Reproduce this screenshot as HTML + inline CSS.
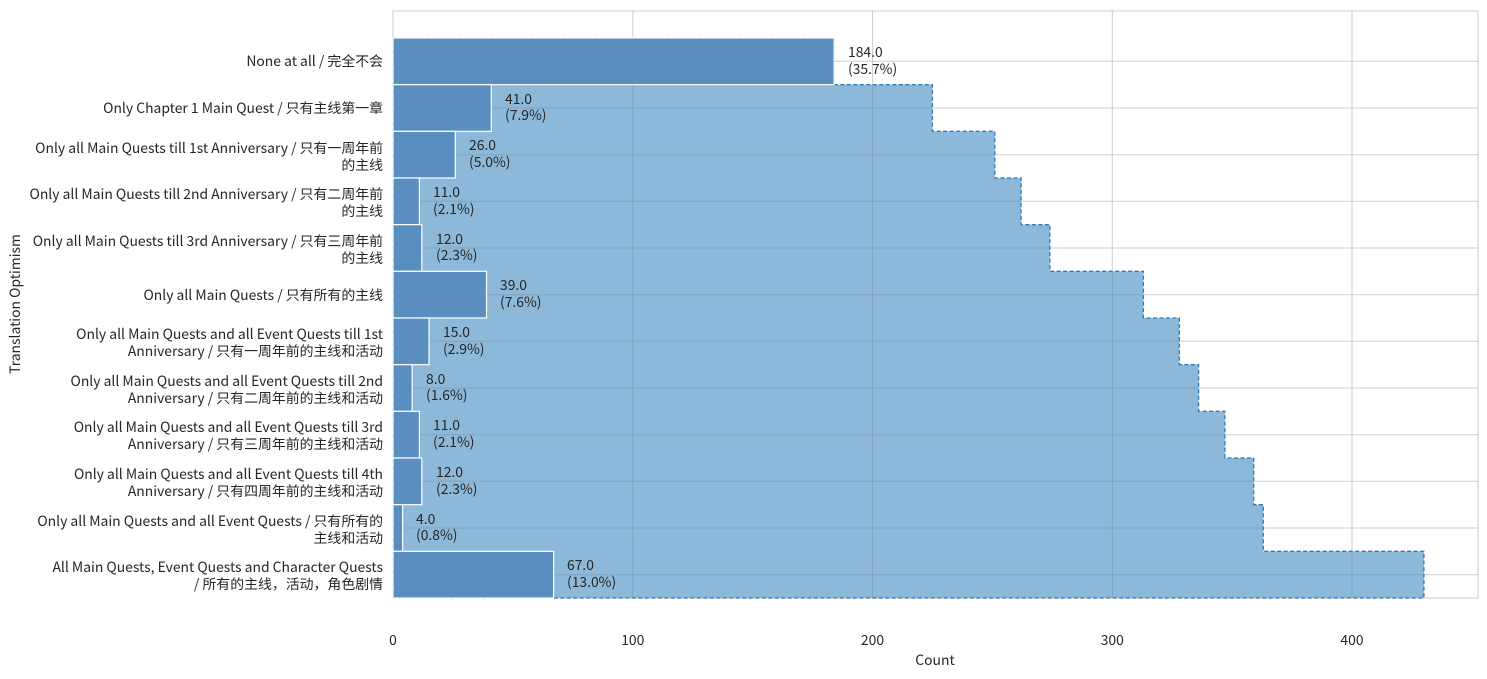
<!DOCTYPE html>
<html><head><meta charset="utf-8"><style>
body{margin:0;background:#fff;}
svg{display:block;font-family:"Noto Sans CJK SC","Liberation Sans",sans-serif;font-size:13.9px;fill:#262626;}
</style></head><body>
<svg width="1487" height="679" xmlns="http://www.w3.org/2000/svg">
<rect x="393" y="11" width="1085" height="587" fill="#fff" stroke="#ccc" stroke-width="1"/>
<path d="M393,38 H834.1 V84.67 H932.4 V131.33 H994.8 V178 H1021.1 V224.67 H1049.9 V271.33 H1143.4 V318 H1179.4 V364.67 H1198.6 V411.33 H1224.9 V458 H1253.7 V504.67 H1263.3 V551.33 H1423.9 V598 H393 Z" fill="#8cb8da" stroke="#2f78b8" stroke-width="1.3" stroke-dasharray="4,2.5"/>
<g stroke="#7a8a96" stroke-opacity="0.4" stroke-width="1">
<line x1="632.8" y1="11" x2="632.8" y2="598"/><line x1="872.5" y1="11" x2="872.5" y2="598"/><line x1="1112.3" y1="11" x2="1112.3" y2="598"/><line x1="1352" y1="11" x2="1352" y2="598"/>
<line x1="393" x2="1478" y1="61.3" y2="61.3"/><line x1="393" x2="1478" y1="108" y2="108"/><line x1="393" x2="1478" y1="154.7" y2="154.7"/><line x1="393" x2="1478" y1="201.3" y2="201.3"/><line x1="393" x2="1478" y1="248" y2="248"/><line x1="393" x2="1478" y1="294.7" y2="294.7"/><line x1="393" x2="1478" y1="341.3" y2="341.3"/><line x1="393" x2="1478" y1="388" y2="388"/><line x1="393" x2="1478" y1="434.7" y2="434.7"/><line x1="393" x2="1478" y1="481.3" y2="481.3"/><line x1="393" x2="1478" y1="528" y2="528"/><line x1="393" x2="1478" y1="574.7" y2="574.7"/>
</g>
<g fill="#5a8ebe" stroke="#fff" stroke-width="1.2">
<rect x="393" y="38" width="441.1" height="46.67"/>
<rect x="393" y="84.67" width="98.3" height="46.67"/>
<rect x="393" y="131.33" width="62.3" height="46.67"/>
<rect x="393" y="178" width="26.4" height="46.67"/>
<rect x="393" y="224.67" width="28.8" height="46.67"/>
<rect x="393" y="271.33" width="93.5" height="46.67"/>
<rect x="393" y="318" width="36" height="46.67"/>
<rect x="393" y="364.67" width="19.2" height="46.67"/>
<rect x="393" y="411.33" width="26.4" height="46.67"/>
<rect x="393" y="458" width="28.8" height="46.67"/>
<rect x="393" y="504.67" width="9.6" height="46.67"/>
<rect x="393" y="551.33" width="160.6" height="46.67"/>
</g>
<g>
<text x="848" y="57">184.0</text><text x="848" y="74">(35.7%)</text>
<text x="505" y="104">41.0</text><text x="505" y="120">(7.9%)</text>
<text x="469" y="150">26.0</text><text x="469" y="167">(5.0%)</text>
<text x="433" y="197">11.0</text><text x="433" y="214">(2.1%)</text>
<text x="436" y="244">12.0</text><text x="436" y="260">(2.3%)</text>
<text x="500" y="290">39.0</text><text x="500" y="307">(7.6%)</text>
<text x="443" y="337">15.0</text><text x="443" y="354">(2.9%)</text>
<text x="426" y="384">8.0</text><text x="426" y="400">(1.6%)</text>
<text x="433" y="430">11.0</text><text x="433" y="447">(2.1%)</text>
<text x="436" y="477">12.0</text><text x="436" y="494">(2.3%)</text>
<text x="416" y="524">4.0</text><text x="416" y="540">(0.8%)</text>
<text x="567" y="570">67.0</text><text x="567" y="587">(13.0%)</text>
</g>
<g text-anchor="end">
<text x="383" y="66">None at all / 完全不会</text>
<text x="383" y="113">Only Chapter 1 Main Quest / 只有主线第一章</text>
<text x="383" y="153">Only all Main Quests till 1st Anniversary / 只有一周年前</text><text x="383" y="170">的主线</text>
<text x="383" y="199">Only all Main Quests till 2nd Anniversary / 只有二周年前</text><text x="383" y="216">的主线</text>
<text x="383" y="246">Only all Main Quests till 3rd Anniversary / 只有三周年前</text><text x="383" y="263">的主线</text>
<text x="383" y="300">Only all Main Quests / 只有所有的主线</text>
<text x="383" y="339">Only all Main Quests and all Event Quests till 1st</text><text x="383" y="356">Anniversary / 只有一周年前的主线和活动</text>
<text x="383" y="386">Only all Main Quests and all Event Quests till 2nd</text><text x="383" y="403">Anniversary / 只有二周年前的主线和活动</text>
<text x="383" y="432">Only all Main Quests and all Event Quests till 3rd</text><text x="383" y="449">Anniversary / 只有三周年前的主线和活动</text>
<text x="383" y="479">Only all Main Quests and all Event Quests till 4th</text><text x="383" y="496">Anniversary / 只有四周年前的主线和活动</text>
<text x="383" y="526">Only all Main Quests and all Event Quests / 只有所有的</text><text x="383" y="543">主线和活动</text>
<text x="383" y="572">All Main Quests, Event Quests and Character Quests</text><text x="383" y="589">/ 所有的主线，活动，角色剧情</text>
</g>
<g text-anchor="middle">
<text x="393" y="645">0</text><text x="632.8" y="645">100</text><text x="872.5" y="645">200</text><text x="1112.3" y="645">300</text><text x="1352" y="645">400</text>
<text x="935" y="665">Count</text>
<text transform="translate(20,304) rotate(-90)">Translation Optimism</text>
</g>
</svg>
</body></html>
